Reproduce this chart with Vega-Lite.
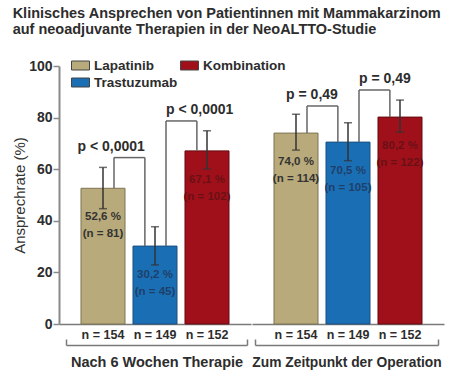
{
  "$schema": "https://vega.github.io/schema/vega-lite/v6.json",
  "background": "white",
  "padding": {"left": 12, "top": 5, "right": 3, "bottom": 4},
  "title": {
    "text": ["Klinisches Ansprechen von Patientinnen mit Mammakarzinom", "auf neoadjuvante Therapien in der NeoALTTO-Studie"],
    "anchor": "start", "frame": "bounds",
    "font": "Liberation Sans",
    "fontSize": 14.5, "fontWeight": "bold", "color": "#2d2d2d", "lineHeight": 16, "offset": 19
  },
  "config": {
    "view": {"stroke": null},
    "font": "Liberation Sans",
    "axis": {"grid": false},
    "legend": {
      "orient": "none", "legendX": 12, "legendY": -10, "columns": 2, "title": null,
      "symbolType": "M-1,-0.5H1V0.5H-1Z", "symbolSize": 324, "symbolStrokeColor": "#444", "symbolStrokeWidth": 1,
      "symbolOpacity": 1,
      "labelFont": "Liberation Sans",
      "labelFontSize": 13.5, "labelFontWeight": "bold", "labelColor": "#2d2d2d",
      "rowPadding": 1, "columnPadding": 0, "labelOffset": 4
    }
  },
  "datasets": {
    "bars": [
      {"phase": "g1", "series": "Lapatinib", "value": 52.6, "lo": 44.7, "hi": 60.7, "pct": "52,6 %", "nlab": "(n = 81)"},
      {"phase": "g1", "series": "Trastuzumab", "value": 30.2, "lo": 22.9, "hi": 37.7, "pct": "30,2 %", "nlab": "(n = 45)"},
      {"phase": "g1", "series": "Kombination", "value": 67.1, "lo": 60.1, "hi": 74.9, "pct": "67,1 %", "nlab": "(n = 102)"},
      {"phase": "g2", "series": "Lapatinib", "value": 74.0, "lo": 67.4, "hi": 81.3, "pct": "74,0 %", "nlab": "(n = 114)"},
      {"phase": "g2", "series": "Trastuzumab", "value": 70.5, "lo": 63.3, "hi": 78.0, "pct": "70,5 %", "nlab": "(n = 105)"},
      {"phase": "g2", "series": "Kombination", "value": 80.2, "lo": 74.3, "hi": 86.8, "pct": "80,2 %", "nlab": "(n = 122)"}
    ],
    "brackets": [
      {"phase": "g1", "from": "Lapatinib", "to": "Trastuzumab", "yFrom": 52.6, "yTo": 30.2, "h": 64.5, "p": "p < 0,0001", "side": "right"},
      {"phase": "g1", "from": "Trastuzumab", "to": "Kombination", "yFrom": 30.2, "yTo": 67.1, "h": 78.7, "p": "p < 0,0001", "side": "left"},
      {"phase": "g2", "from": "Lapatinib", "to": "Trastuzumab", "yFrom": 74.0, "yTo": 70.5, "h": 84.5, "p": "p = 0,49", "side": "right"},
      {"phase": "g2", "from": "Trastuzumab", "to": "Kombination", "yFrom": 70.5, "yTo": 80.2, "h": 90.7, "p": "p = 0,49", "side": "left"}
    ],
    "span": [{"t": 0}, {"t": 1}]
  },
  "spacing": 0,
  "hconcat": [
    {
      "width": 192, "height": 258,
      "resolve": {"scale": {"x": "independent"}, "axis": {"x": "independent"}},
      "layer": [
        {
          "layer": [
            {
              "data": {"name": "bars"}, "transform": [{"filter": "datum.phase == 'g1'"}],
              "mark": {"type": "bar", "strokeWidth": 1, "opacity": 1},
              "encoding": {
                "x": {"field": "series", "type": "nominal", "sort": null,
                  "scale": {"domain": ["Lapatinib", "Trastuzumab", "Kombination"], "paddingInner": 0.1538, "paddingOuter": 0.423},
                  "axis": {"title": null, "ticks": false, "domain": true, "domainColor": "#7a7a7a", "domainWidth": 1.5, "labelAngle": 0,
                    "labelFontSize": 12.5, "labelFontWeight": "bold", "labelColor": "#2d2d2d", "labelPadding": 4,
                    "labelExpr": "datum.value == 'Lapatinib' ? 'n = 154' : datum.value == 'Trastuzumab' ? 'n = 149' : 'n = 152'"}},
                "y": {"field": "value", "type": "quantitative", "scale": {"domain": [0, 100]},
                  "axis": {"values": [0, 20, 40, 60, 80, 100], "grid": false, "domainColor": "#8a8a8a", "domainWidth": 2,
                    "tickColor": "#8a8a8a", "tickWidth": 1.5, "tickSize": 6, "labelFontSize": 14, "labelFontWeight": "bold",
                    "labelColor": "#2d2d2d", "labelPadding": 1, "title": "Ansprechrate (%)", "titleFontSize": 15,
                    "titleFontWeight": "normal", "titleColor": "#333", "titlePadding": 1}},
                "color": {"field": "series", "type": "nominal",
                  "scale": {"domain": ["Lapatinib", "Trastuzumab", "Kombination"], "range": ["#b8aa7a", "#1a6fb4", "#a0101a"]}},
                "stroke": {"field": "series", "type": "nominal",
                  "scale": {"domain": ["Kombination", "Trastuzumab", "Lapatinib"], "range": ["#650a10", "#1b4f82", "#7d7455"]},
                  "legend": null}
              }
            },
            {
              "data": {"name": "bars"}, "transform": [{"filter": "datum.phase == 'g1'"}],
              "mark": {"type": "rule", "color": "#333", "strokeWidth": 1.5},
              "encoding": {
                "x": {"field": "series", "type": "nominal", "sort": null},
                "y": {"field": "lo", "type": "quantitative"}, "y2": {"field": "hi"}
              }
            },
            {
              "data": {"name": "bars"}, "transform": [{"filter": "datum.phase == 'g1'"}],
              "mark": {"type": "tick", "color": "#333", "thickness": 1.5, "size": 8},
              "encoding": {
                "x": {"field": "series", "type": "nominal", "sort": null},
                "y": {"field": "lo", "type": "quantitative"}
              }
            },
            {
              "data": {"name": "bars"}, "transform": [{"filter": "datum.phase == 'g1'"}],
              "mark": {"type": "tick", "color": "#333", "thickness": 1.5, "size": 8},
              "encoding": {
                "x": {"field": "series", "type": "nominal", "sort": null},
                "y": {"field": "hi", "type": "quantitative"}
              }
            },
            {
              "data": {"name": "bars"}, "transform": [{"filter": "datum.phase == 'g1'"}],
              "mark": {"type": "text", "fontSize": 11.5, "fontWeight": "bold", "baseline": "middle", "dy": 29},
              "encoding": {
                "x": {"field": "series", "type": "nominal", "sort": null},
                "y": {"field": "value", "type": "quantitative"},
                "text": {"field": "pct"},
                "fill": {"field": "series", "type": "nominal",
                  "scale": {"domain": ["Trastuzumab", "Lapatinib", "Kombination"], "range": ["#1f3f6b", "#333333", "#6a1015"]},
                  "legend": null}
              }
            },
            {
              "data": {"name": "bars"}, "transform": [{"filter": "datum.phase == 'g1'"}],
              "mark": {"type": "text", "fontSize": 11.5, "fontWeight": "bold", "baseline": "middle", "dy": 46},
              "encoding": {
                "x": {"field": "series", "type": "nominal", "sort": null},
                "y": {"field": "value", "type": "quantitative"},
                "text": {"field": "nlab"},
                "fill": {"field": "series", "type": "nominal", "legend": null}
              }
            },
            {
              "data": {"name": "brackets"}, "transform": [{"filter": "datum.phase == 'g1'"}],
              "mark": {"type": "rule", "color": "#666", "strokeWidth": 1.5},
              "encoding": {
                "x": {"field": "from", "type": "nominal", "bandPosition": 0.75},
                "y": {"field": "yFrom", "type": "quantitative"}, "y2": {"field": "h"}
              }
            },
            {
              "data": {"name": "brackets"}, "transform": [{"filter": "datum.phase == 'g1'"}],
              "mark": {"type": "rule", "color": "#666", "strokeWidth": 1.5},
              "encoding": {
                "x": {"field": "to", "type": "nominal", "bandPosition": 0.27},
                "y": {"field": "yTo", "type": "quantitative"}, "y2": {"field": "h"}
              }
            },
            {
              "data": {"name": "brackets"}, "transform": [{"filter": "datum.phase == 'g1'"}],
              "mark": {"type": "rule", "color": "#666", "strokeWidth": 1.5},
              "encoding": {
                "x": {"field": "from", "type": "nominal", "bandPosition": 0.75},
                "x2": {"field": "to", "bandPosition": 0.27},
                "y": {"field": "h", "type": "quantitative"}
              }
            },
            {
              "data": {"name": "brackets"}, "transform": [{"filter": "datum.phase == 'g1' && datum.side == 'right'"}],
              "mark": {"type": "text", "fontSize": 14, "fontWeight": "bold", "align": "right", "baseline": "alphabetic", "dy": -7, "color": "#2d2d2d"},
              "encoding": {
                "x": {"field": "to", "type": "nominal", "bandPosition": 0.27},
                "y": {"field": "h", "type": "quantitative"},
                "text": {"field": "p"}
              }
            },
            {
              "data": {"name": "brackets"}, "transform": [{"filter": "datum.phase == 'g1' && datum.side == 'left'"}],
              "mark": {"type": "text", "fontSize": 14, "fontWeight": "bold", "align": "left", "baseline": "alphabetic", "dy": -7, "color": "#2d2d2d"},
              "encoding": {
                "x": {"field": "from", "type": "nominal", "bandPosition": 0.75},
                "y": {"field": "h", "type": "quantitative"},
                "text": {"field": "p"}
              }
            }
          ]
        },
        {
          "data": {"name": "span"},
          "mark": {"type": "point", "opacity": 0},
          "encoding": {
            "x": {"field": "t", "type": "quantitative", "scale": {"domain": [0, 1], "range": [7, 188], "nice": false, "zero": false},
              "axis": {"orient": "bottom", "offset": 21, "values": [0, 1], "labels": false, "grid": false,
                "domain": true, "domainColor": "#7a7a7a", "domainWidth": 1.5, "ticks": true, "tickSize": -6,
                "tickColor": "#7a7a7a", "tickWidth": 1.5, "title": "Nach 6 Wochen Therapie", "titleFontSize": 14.5,
                "titleFontWeight": "bold", "titleColor": "#2d2d2d", "titlePadding": 10}}
          }
        }
      ]
    },
    {
      "width": 192, "height": 258,
      "resolve": {"scale": {"x": "independent"}, "axis": {"x": "independent"}},
      "layer": [
        {
          "layer": [
            {
              "data": {"name": "bars"}, "transform": [{"filter": "datum.phase == 'g2'"}],
              "mark": {"type": "bar", "strokeWidth": 1, "opacity": 1},
              "encoding": {
                "x": {"field": "series", "type": "nominal", "sort": null,
                  "scale": {"domain": ["Lapatinib", "Trastuzumab", "Kombination"], "paddingInner": 0.1538, "paddingOuter": 0.423},
                  "axis": {"title": null, "ticks": false, "domain": true, "domainColor": "#7a7a7a", "domainWidth": 1.5, "labelAngle": 0,
                    "labelFontSize": 12.5, "labelFontWeight": "bold", "labelColor": "#2d2d2d", "labelPadding": 4,
                    "labelExpr": "datum.value == 'Lapatinib' ? 'n = 154' : datum.value == 'Trastuzumab' ? 'n = 149' : 'n = 152'"}},
                "y": {"field": "value", "type": "quantitative", "scale": {"domain": [0, 100]}, "axis": null},
                "color": {"field": "series", "type": "nominal",
                  "scale": {"domain": ["Lapatinib", "Trastuzumab", "Kombination"], "range": ["#b8aa7a", "#1a6fb4", "#a0101a"]}},
                "stroke": {"field": "series", "type": "nominal",
                  "scale": {"domain": ["Kombination", "Trastuzumab", "Lapatinib"], "range": ["#650a10", "#1b4f82", "#7d7455"]},
                  "legend": null}
              }
            },
            {
              "data": {"name": "bars"}, "transform": [{"filter": "datum.phase == 'g2'"}],
              "mark": {"type": "rule", "color": "#333", "strokeWidth": 1.5},
              "encoding": {
                "x": {"field": "series", "type": "nominal", "sort": null},
                "y": {"field": "lo", "type": "quantitative", "axis": null}, "y2": {"field": "hi"}
              }
            },
            {
              "data": {"name": "bars"}, "transform": [{"filter": "datum.phase == 'g2'"}],
              "mark": {"type": "tick", "color": "#333", "thickness": 1.5, "size": 8},
              "encoding": {
                "x": {"field": "series", "type": "nominal", "sort": null},
                "y": {"field": "lo", "type": "quantitative", "axis": null}
              }
            },
            {
              "data": {"name": "bars"}, "transform": [{"filter": "datum.phase == 'g2'"}],
              "mark": {"type": "tick", "color": "#333", "thickness": 1.5, "size": 8},
              "encoding": {
                "x": {"field": "series", "type": "nominal", "sort": null},
                "y": {"field": "hi", "type": "quantitative", "axis": null}
              }
            },
            {
              "data": {"name": "bars"}, "transform": [{"filter": "datum.phase == 'g2'"}],
              "mark": {"type": "text", "fontSize": 11.5, "fontWeight": "bold", "baseline": "middle", "dy": 29},
              "encoding": {
                "x": {"field": "series", "type": "nominal", "sort": null},
                "y": {"field": "value", "type": "quantitative", "axis": null},
                "text": {"field": "pct"},
                "fill": {"field": "series", "type": "nominal",
                  "scale": {"domain": ["Trastuzumab", "Lapatinib", "Kombination"], "range": ["#1f3f6b", "#333333", "#6a1015"]},
                  "legend": null}
              }
            },
            {
              "data": {"name": "bars"}, "transform": [{"filter": "datum.phase == 'g2'"}],
              "mark": {"type": "text", "fontSize": 11.5, "fontWeight": "bold", "baseline": "middle", "dy": 46},
              "encoding": {
                "x": {"field": "series", "type": "nominal", "sort": null},
                "y": {"field": "value", "type": "quantitative", "axis": null},
                "text": {"field": "nlab"},
                "fill": {"field": "series", "type": "nominal", "legend": null}
              }
            },
            {
              "data": {"name": "brackets"}, "transform": [{"filter": "datum.phase == 'g2'"}],
              "mark": {"type": "rule", "color": "#666", "strokeWidth": 1.5},
              "encoding": {
                "x": {"field": "from", "type": "nominal", "bandPosition": 0.75},
                "y": {"field": "yFrom", "type": "quantitative", "axis": null}, "y2": {"field": "h"}
              }
            },
            {
              "data": {"name": "brackets"}, "transform": [{"filter": "datum.phase == 'g2'"}],
              "mark": {"type": "rule", "color": "#666", "strokeWidth": 1.5},
              "encoding": {
                "x": {"field": "to", "type": "nominal", "bandPosition": 0.27},
                "y": {"field": "yTo", "type": "quantitative", "axis": null}, "y2": {"field": "h"}
              }
            },
            {
              "data": {"name": "brackets"}, "transform": [{"filter": "datum.phase == 'g2'"}],
              "mark": {"type": "rule", "color": "#666", "strokeWidth": 1.5},
              "encoding": {
                "x": {"field": "from", "type": "nominal", "bandPosition": 0.75},
                "x2": {"field": "to", "bandPosition": 0.27},
                "y": {"field": "h", "type": "quantitative", "axis": null}
              }
            },
            {
              "data": {"name": "brackets"}, "transform": [{"filter": "datum.phase == 'g2' && datum.side == 'right'"}],
              "mark": {"type": "text", "fontSize": 14, "fontWeight": "bold", "align": "right", "baseline": "alphabetic", "dy": -7, "color": "#2d2d2d"},
              "encoding": {
                "x": {"field": "to", "type": "nominal", "bandPosition": 0.27},
                "y": {"field": "h", "type": "quantitative", "axis": null},
                "text": {"field": "p"}
              }
            },
            {
              "data": {"name": "brackets"}, "transform": [{"filter": "datum.phase == 'g2' && datum.side == 'left'"}],
              "mark": {"type": "text", "fontSize": 14, "fontWeight": "bold", "align": "left", "baseline": "alphabetic", "dy": -7, "color": "#2d2d2d"},
              "encoding": {
                "x": {"field": "from", "type": "nominal", "bandPosition": 0.75},
                "y": {"field": "h", "type": "quantitative", "axis": null},
                "text": {"field": "p"}
              }
            }
          ]
        },
        {
          "data": {"name": "span"},
          "mark": {"type": "point", "opacity": 0},
          "encoding": {
            "x": {"field": "t", "type": "quantitative", "scale": {"domain": [0, 1], "range": [3, 186], "nice": false, "zero": false},
              "axis": {"orient": "bottom", "offset": 21, "values": [0, 1], "labels": false, "grid": false,
                "domain": true, "domainColor": "#7a7a7a", "domainWidth": 1.5, "ticks": true, "tickSize": -6,
                "tickColor": "#7a7a7a", "tickWidth": 1.5, "title": "Zum Zeitpunkt der Operation", "titleFontSize": 13.8,
                "titleFontWeight": "bold", "titleColor": "#2d2d2d", "titlePadding": 10}}
          }
        }
      ]
    }
  ]
}
